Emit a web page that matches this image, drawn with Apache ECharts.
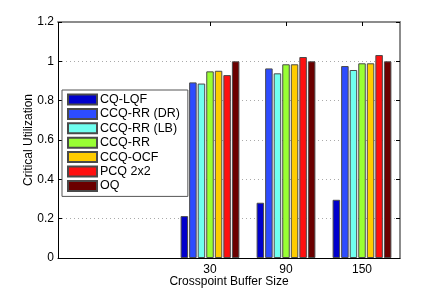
<!DOCTYPE html>
<html>
<head>
<meta charset="utf-8">
<script src="https://cdn.jsdelivr.net/npm/echarts@6/dist/echarts.min.js"></script>
<style>html,body{margin:0;padding:0;background:#fff}#c{width:443px;height:291px}</style>
</head>
<body>
<div id="c"></div>
<script>
const categories = ['30', '90', '150'];
const seriesNames = ['CQ-LQF', 'CCQ-RR (DR)', 'CCQ-RR (LB)', 'CCQ-RR', 'CCQ-OCF', 'PCQ 2x2', 'OQ'];
const cqLqf   = [0.213, 0.281, 0.296];
const ccqRrDr = [0.893, 0.964, 0.976];
const ccqRrLb = [0.887, 0.939, 0.956];
const ccqRr   = [0.949, 0.985, 0.990];
const ccqOcf  = [0.952, 0.985, 0.990];
const pcq2x2  = [0.930, 1.022, 1.032];
const oq      = [1.000, 1.000, 1.000];
const yTicks = [0, 0.2, 0.4, 0.6, 0.8, 1, 1.2];
const colors = ['#0000cc', '#2d4cff', '#70fff0', '#99ff33', '#ffcc00', '#ff1010', '#6b0000'];

const allValues = [cqLqf, ccqRrDr, ccqRrLb, ccqRr, ccqOcf, pcq2x2, oq];
const positions = categories.map((c, i) => i + 1);
const font = 'Liberation Sans, Arial, Helvetica, sans-serif';

const chart = echarts.init(document.getElementById('c'), null, {renderer: 'canvas'});
chart.setOption({
  animation: false,
  backgroundColor: '#fff',
  textStyle: {fontFamily: font},
  grid: {left: 58, right: 43, top: 22, bottom: 33, containLabel: false, outerBoundsMode: 'none'},
  legend: {
    orient: 'vertical',
    left: 62, top: 90,
    padding: [3, 8, 4, 5],
    itemWidth: 29, itemHeight: 10, itemGap: 1.4,
    backgroundColor: '#fff',
    borderColor: '#555', borderWidth: 1,
    icon: 'rect',
    textStyle: {fontFamily: font, fontSize: 12.5, color: '#000', padding: [0, 0, 0, -2]},
    data: seriesNames
  },
  xAxis: [{
    type: 'value', min: -1, max: 3.5, interval: 1,
    name: 'Crosspoint Buffer Size', nameLocation: 'middle', nameGap: 18, nameMoveOverlap: false,
    nameTextStyle: {fontFamily: font, fontSize: 12, color: '#000'},
    axisLine: {show: true, onZero: false, lineStyle: {color: '#000', width: 1}},
    axisTick: {show: true, inside: true, length: 4, customValues: positions, lineStyle: {color: '#000'}},
    axisLabel: {customValues: positions, fontFamily: font, fontSize: 12, color: '#000', margin: 6,
      formatter: v => categories[Math.round(v) - 1] || ''},
    splitLine: {show: false}
  }, {
    type: 'value', min: -1, max: 3.5, position: 'top',
    axisLine: {show: true, onZero: false, lineStyle: {color: '#8c8c8c', width: 2}},
    axisTick: {show: true, inside: true, length: 4, customValues: positions, lineStyle: {color: '#000'}},
    axisLabel: {show: false}, splitLine: {show: false}
  }],
  yAxis: [{
    type: 'value', min: 0, max: 1.2, interval: 0.2,
    name: 'Critical Utilization', nameLocation: 'middle', nameGap: 23, nameRotate: 90, nameMoveOverlap: false,
    nameTextStyle: {fontFamily: font, fontSize: 12, color: '#000'},
    axisLine: {show: true, onZero: false, lineStyle: {color: '#000', width: 1}},
    axisTick: {show: true, inside: true, length: 4, lineStyle: {color: '#000'}},
    axisLabel: {fontFamily: font, fontSize: 12, color: '#000', margin: 4,
      formatter: v => String(+v.toFixed(1))},
    splitLine: {show: true, lineStyle: {color: '#aaa', type: [1, 3], width: 1}}
  }, {
    type: 'value', min: 0, max: 1.2, interval: 0.2, position: 'right',
    axisLine: {show: true, onZero: false, lineStyle: {color: '#8c8c8c', width: 2}},
    axisTick: {show: true, inside: true, length: 4, lineStyle: {color: '#000'}},
    axisLabel: {show: false}, splitLine: {show: false}
  }],
  series: seriesNames.map((name, s) => ({
    name: name,
    type: 'bar',
    xAxisIndex: 0, yAxisIndex: 0,
    barWidth: 7.5,
    barGap: '14%',
    itemStyle: {color: colors[s], borderColor: '#4a4a4a', borderWidth: 1},
    data: allValues[s].map((v, i) => [positions[i], v])
  }))
});
</script>
</body>
</html>
